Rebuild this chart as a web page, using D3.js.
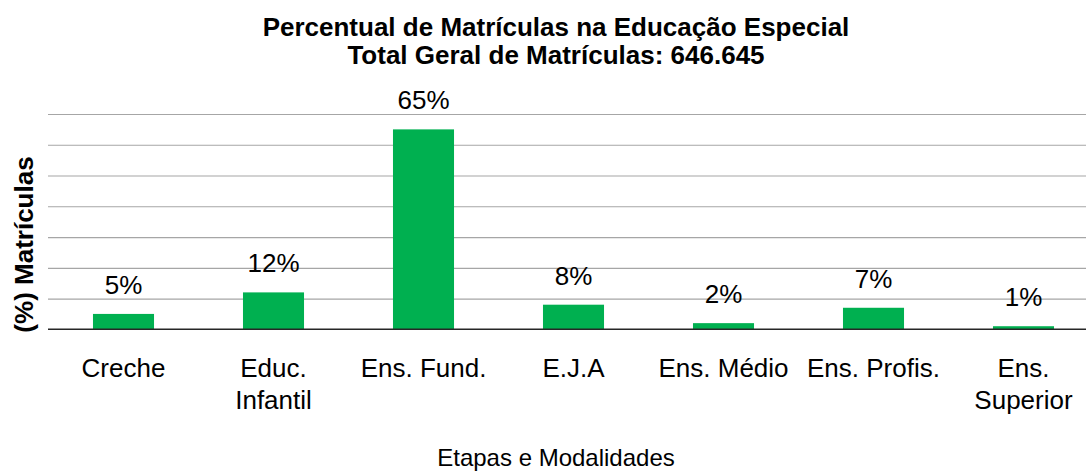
<!DOCTYPE html>
<html lang="pt">
<head>
<meta charset="utf-8">
<script src="https://cdn.jsdelivr.net/npm/d3@7"></script>
<style>
  html, body { margin: 0; padding: 0; background: #fff; }
  svg { display: block; font-family: Arial, "Liberation Sans", sans-serif; }
</style>
</head>
<body>
<svg id="chart" width="1086" height="472"></svg>
<script>
// Etapas e modalidades (rótulos quebrados em linhas com "\n")
const categorias = ["Creche", "Educ.\nInfantil", "Ens. Fund.", "E.J.A", "Ens. Médio", "Ens. Profis.", "Ens.\nSuperior"];
// Percentual de matrículas por etapa
const percentuais = [5, 12, 65, 8, 2, 7, 1];
// Linhas de grade do eixo Y (em %)
const gradeY = [10, 20, 30, 40, 50, 60, 70];

const titulo = ["Percentual de Matrículas na Educação Especial", "Total Geral de Matrículas: 646.645"];
const tituloY = "(%) Matrículas";
const tituloX = "Etapas e Modalidades";

const svg = d3.select("#chart");

const x = d3.scaleBand()
  .domain(categorias)
  .range([48.5, 1098.5])
  .padding(0);

const y = d3.scaleLinear()
  .domain([0, 70])
  .range([329.3, 114]);

const larguraBarra = x.bandwidth() * 0.407;

// Linhas de grade
const grade = svg.append("g")
  .attr("transform", "translate(48,0)")
  .call(d3.axisLeft(y).tickValues(gradeY).tickSize(-1100).tickFormat(""));
grade.select(".domain").remove();
grade.selectAll(".tick line")
  .attr("stroke", "#a6a6a6")
  .attr("stroke-width", 1.2);

// Barras
svg.append("g").selectAll("rect")
  .data(percentuais)
  .join("rect")
  .attr("x", (d, i) => x(categorias[i]) + (x.bandwidth() - larguraBarra) / 2)
  .attr("width", larguraBarra)
  .attr("y", d => y(d))
  .attr("height", d => y(0) - y(d))
  .attr("fill", "#00B050");

// Eixo X (linha de base e rótulos das categorias)
const eixoX = svg.append("g")
  .attr("transform", `translate(0,${y(0)})`)
  .call(d3.axisBottom(x).tickSize(0).tickFormat(""));
eixoX.select(".domain")
  .attr("stroke", "#262626")
  .attr("stroke-width", 1.5)
  .attr("d", `M48,0H1086`);

eixoX.selectAll(".tick").each(function(c) {
  const t = d3.select(this).append("text")
    .attr("text-anchor", "middle")
    .attr("fill", "#000")
    .attr("font-size", 26)
    .attr("y", 47.5);
  c.split("\n").forEach((linha, k) => {
    t.append("tspan")
      .attr("x", 0)
      .attr("dy", k === 0 ? 0 : 32)
      .text(linha);
  });
});

// Rótulos de valor
svg.append("g").selectAll("text")
  .data(percentuais)
  .join("text")
  .attr("x", (d, i) => x(categorias[i]) + x.bandwidth() / 2)
  .attr("y", d => y(d) - 20)
  .attr("text-anchor", "middle")
  .attr("font-size", 26)
  .attr("fill", "#000")
  .text(d => d + "%");

// Título
svg.append("g").selectAll("text")
  .data(titulo)
  .join("text")
  .attr("x", 556)
  .attr("y", (d, i) => 36 + i * 27.5)
  .attr("text-anchor", "middle")
  .attr("font-size", 26)
  .attr("font-weight", "bold")
  .attr("fill", "#000")
  .text(d => d);

// Título do eixo Y
svg.append("text")
  .attr("transform", "translate(33,244.5) rotate(-90)")
  .attr("text-anchor", "middle")
  .attr("font-size", 26)
  .attr("font-weight", "bold")
  .attr("fill", "#000")
  .text(tituloY);

// Título do eixo X
svg.append("text")
  .attr("x", 556)
  .attr("y", 466)
  .attr("text-anchor", "middle")
  .attr("font-size", 24)
  .attr("fill", "#000")
  .text(tituloX);
</script>
</body>
</html>
